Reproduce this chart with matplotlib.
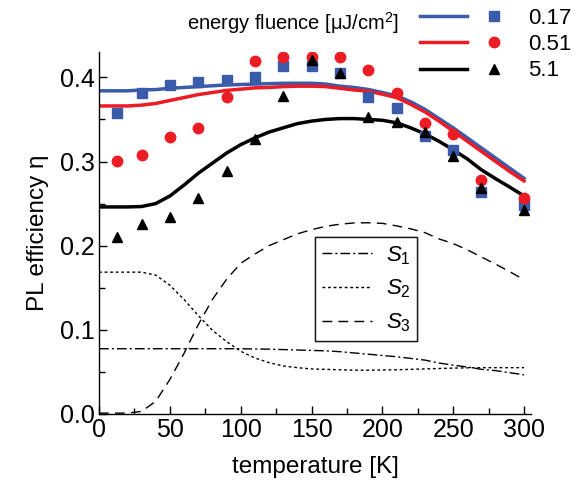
import matplotlib
matplotlib.use("Agg")
import matplotlib.pyplot as plt
from matplotlib.lines import Line2D
from matplotlib.legend_handler import HandlerTuple
from matplotlib.ticker import MultipleLocator

plt.rcParams['font.family'] = ['Liberation Sans', 'DejaVu Sans']
plt.rcParams['mathtext.fontset'] = 'custom'
plt.rcParams['mathtext.rm'] = 'Liberation Sans'
plt.rcParams['mathtext.it'] = 'Liberation Sans:italic'

# measured points
temp_pts = [13, 30, 50, 70, 90, 110, 130, 150, 170, 190, 210, 230, 250, 270, 300]
eta_017 = [0.358, 0.381, 0.391, 0.394, 0.397, 0.401, 0.413, 0.413, 0.405, 0.377, 0.364, 0.330, 0.314, 0.264, 0.248]
eta_051 = [0.301, 0.308, 0.329, 0.340, 0.377, 0.419, 0.424, 0.424, 0.424, 0.409, 0.382, 0.346, 0.333, 0.278, 0.257]
eta_51 = [0.210, 0.226, 0.234, 0.257, 0.289, 0.327, 0.378, 0.421, 0.405, 0.353, 0.347, 0.335, 0.306, 0.268, 0.242]

# model curves, read every 10 K
temp_fit = list(range(0, 301, 10))
fit_017 = [0.384, 0.384, 0.384, 0.385, 0.3855, 0.387, 0.388, 0.389, 0.390, 0.391, 0.3915,
           0.392, 0.3925, 0.393, 0.393, 0.393, 0.392, 0.3895, 0.388, 0.3856, 0.382,
           0.378, 0.371, 0.362, 0.351, 0.340, 0.328, 0.316, 0.304, 0.292, 0.280]
fit_051 = [0.366, 0.366, 0.366, 0.367, 0.369, 0.3725, 0.376, 0.3795, 0.382, 0.3845, 0.386,
           0.3875, 0.388, 0.389, 0.3895, 0.3895, 0.389, 0.387, 0.385, 0.3836, 0.380,
           0.376, 0.368, 0.359, 0.348, 0.336, 0.324, 0.312, 0.300, 0.288, 0.277]
fit_51 = [0.246, 0.246, 0.246, 0.2465, 0.250, 0.259, 0.272, 0.286, 0.298, 0.310, 0.320,
          0.328, 0.335, 0.340, 0.345, 0.348, 0.350, 0.351, 0.351, 0.350, 0.349,
          0.346, 0.340, 0.333, 0.324, 0.314, 0.303, 0.290, 0.2795, 0.2695, 0.259]
s1 = [0.0775] * 11 + [0.0772, 0.077, 0.0765, 0.076, 0.0755, 0.075, 0.074, 0.0725, 0.071, 0.0695,
                      0.068, 0.066, 0.064, 0.0605, 0.058, 0.0558, 0.053, 0.0515, 0.049, 0.0465]
s2 = [0.1685, 0.1685, 0.1685, 0.1685, 0.165, 0.153, 0.136, 0.117, 0.0995, 0.086, 0.0745,
      0.0665, 0.061, 0.057, 0.055, 0.0535, 0.053, 0.0525, 0.052, 0.052, 0.0522,
      0.0525, 0.053, 0.0535, 0.054, 0.0545, 0.0548, 0.055, 0.055, 0.055, 0.055]
s3 = [0.001, 0.001, 0.001, 0.003, 0.015, 0.041, 0.072, 0.106, 0.136, 0.160, 0.179,
      0.190, 0.200, 0.207, 0.214, 0.219, 0.223, 0.2255, 0.227, 0.2272, 0.2265,
      0.2235, 0.220, 0.2155, 0.208, 0.2025, 0.195, 0.1865, 0.178, 0.169, 0.1595]

fluences = ['0.17', '0.51', '5.1']
colors = ['#3a5ba9', '#ed1c24', 'black']
markers = ['s', 'o', '^']
msizes = [6.5, 7.5, 7.5]

fig = plt.figure(figsize=(5.76, 4.87), dpi=100)
ax = fig.add_axes([0.172, 0.150, 0.750, 0.743])

# S1..S3 components
s_lines = []
for y, ls, name in [(s1, (0, (7, 2.2, 1.5, 2.2)), r'$S_{\mathit{1}}$'),
                    (s2, (0, (2, 2)), r'$S_{\mathit{2}}$'),
                    (s3, (0, (7, 4.5)), r'$S_{\mathit{3}}$')]:
    l, = ax.plot(temp_fit, y, color='black', lw=1.0, linestyle=ls, label=name)
    s_lines.append(l)

# data + fits
handles = []
for pts, fit, c, m, ms in zip([eta_017, eta_051, eta_51], [fit_017, fit_051, fit_51],
                              colors, markers, msizes):
    ax.plot(temp_pts, pts, linestyle='none', marker=m, color=c, markersize=ms, zorder=3)
    ax.plot(temp_fit, fit, color=c, lw=2.5, zorder=2)
    handles.append((Line2D([], [], color=c, lw=2.5),
                    Line2D([], [], color=c, marker=m, markersize=ms, linestyle='none')))

ax.set_xlim(0, 305)
ax.set_ylim(0, 0.43)
ax.xaxis.set_major_locator(MultipleLocator(50))
ax.xaxis.set_minor_locator(MultipleLocator(25))
ax.yaxis.set_major_locator(MultipleLocator(0.1))
ax.yaxis.set_minor_locator(MultipleLocator(0.05))
ax.yaxis.set_major_formatter(plt.FormatStrFormatter('%.1f'))
ax.tick_params(which='both', direction='in', labelsize=18, width=1.0)
ax.tick_params(which='major', length=6, pad=3)
ax.tick_params(which='minor', length=4)
for side in ['top', 'right']:
    ax.spines[side].set_visible(False)
for side in ['left', 'bottom']:
    ax.spines[side].set_linewidth(1.0)

ax.set_xlabel('temperature [K]', fontsize=17.5, labelpad=10)
ax.set_ylabel('PL efficiency η', fontsize=17.5, labelpad=8)

leg_s = ax.legend(handles=s_lines, loc='upper left', bbox_to_anchor=(0.5, 0.489),
                  borderaxespad=0, fontsize=16, frameon=True, fancybox=False,
                  edgecolor='black', handlelength=2.25, handletextpad=0.6,
                  labelspacing=0.5, borderpad=0.32)
leg_s.get_frame().set_linewidth(1.0)
ax.add_artist(leg_s)

fig.legend(handles, fluences, handler_map={tuple: HandlerTuple(ndivide=None, pad=0.12)},
           loc='upper left', bbox_to_anchor=(0.729, 0.984), borderaxespad=0, borderpad=0,
           frameon=False, fontsize=16, handlelength=4.4, labelspacing=0.24,
           handletextpad=0.45)
fig.text(0.325, 0.952, 'energy fluence [μJ/cm$^2$]', fontsize=14.5, va='center')

fig.savefig('out.png', dpi=100)
